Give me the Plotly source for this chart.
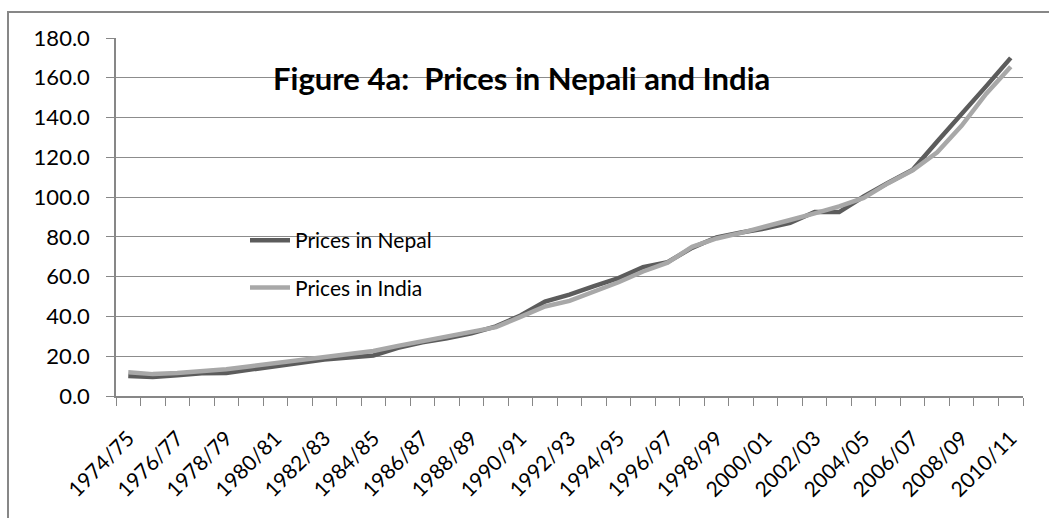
import plotly.graph_objects as go

years = ["1974/75", "1975/76", "1976/77", "1977/78", "1978/79", "1979/80", "1980/81",
         "1981/82", "1982/83", "1983/84", "1984/85", "1985/86", "1986/87", "1987/88",
         "1988/89", "1989/90", "1990/91", "1991/92", "1992/93", "1993/94", "1994/95",
         "1995/96", "1996/97", "1997/98", "1998/99", "1999/00", "2000/01", "2001/02",
         "2002/03", "2003/04", "2004/05", "2005/06", "2006/07", "2007/08", "2008/09",
         "2009/10", "2010/11"]

prices_nepal = [10.0, 9.6, 10.4, 11.4, 11.6, 13.4, 14.8, 16.6, 18.4, 19.4, 20.4, 24.2,
                27.0, 29.0, 31.5, 35.0, 40.5, 47.5, 51.0, 55.3, 59.3, 64.8, 67.3, 74.5,
                79.8, 82.2, 84.3, 87.0, 92.5, 92.5, 100.3, 107.2, 113.8, 128.0, 141.5,
                155.8, 170.0]

prices_india = [11.9, 11.0, 11.6, 12.5, 13.4, 15.0, 16.6, 18.0, 19.6, 21.5, 22.6, 25.2,
                27.5, 29.6, 32.0, 34.6, 39.8, 45.0, 47.8, 52.3, 57.2, 62.6, 67.0, 75.0,
                79.2, 82.0, 85.0, 88.5, 91.8, 95.3, 99.6, 107.0, 113.5, 122.5, 136.0,
                152.0, 165.5]

y_ticks = [0, 20, 40, 60, 80, 100, 120, 140, 160, 180]

title_text = "Figure 4a:  Prices in Nepali and India"
series_names = ["Prices in Nepal", "Prices in India"]

FONT = "Lato, Calibri, Carlito, sans-serif"
W, H = 1049, 518
L, R, T, B = 116, 26, 38, 122
pw = W - L - R
ph = H - T - B

idx = list(range(len(years)))

fig = go.Figure()
fig.add_trace(go.Scatter(x=idx, y=prices_nepal, mode="lines", name=series_names[0],
                         line=dict(color="#5c5c5c", width=4.5), legendgroup="a"))
fig.add_trace(go.Scatter(x=idx, y=prices_india, mode="lines", name=series_names[1],
                         line=dict(color="#a8a8a8", width=4.5), legendgroup="b"))

def px_x(p):
    return (p - L) / pw

def px_y(p):
    return (H - B - p) / ph

fig.update_layout(
    width=W, height=H,
    margin=dict(l=L, r=R, t=T, b=B, pad=0, autoexpand=False),
    paper_bgcolor="white", plot_bgcolor="white",
    font=dict(family=FONT, size=20, color="black"),
    showlegend=True,
    legend=dict(x=px_x(245), y=px_y(220), xanchor="left", yanchor="top",
                bgcolor="rgba(0,0,0,0)", font=dict(size=21, family=FONT),
                traceorder="grouped", tracegroupgap=17, itemwidth=40),
    annotations=[dict(text="<b>" + title_text + "</b>", xref="paper", yref="paper",
                      x=px_x(271), y=px_y(78), xanchor="left", yanchor="middle",
                      showarrow=False, font=dict(size=31, family=FONT, color="black"))],
    shapes=[dict(type="rect", xref="paper", yref="paper",
                 x0=px_x(8), x1=px_x(1060), y0=px_y(530), y1=px_y(12),
                 line=dict(color="#878787", width=2), fillcolor="rgba(0,0,0,0)",
                 layer="below")],
)

fig.update_xaxes(
    range=[-0.5, len(years) - 0.5],
    automargin=False,
    tickmode="array",
    tickvals=idx[::2],
    ticktext=years[::2],
    tickangle=-45,
    ticks="",
    ticklabelstandoff=20,
    showgrid=False,
    showline=True, linecolor="#878787", linewidth=1.5,
    tickfont=dict(size=21, family=FONT, color="black"),
    minor=dict(tick0=-0.5, dtick=1, ticks="outside", ticklen=8, tickcolor="#878787",
               tickwidth=1, showgrid=False),
    zeroline=False,
)
fig.update_yaxes(
    range=[0, 180],
    automargin=False,
    tickmode="array",
    tickvals=y_ticks,
    ticktext=[f"{v:.1f}" for v in y_ticks],
    ticks="outside", ticklen=8, tickcolor="#878787",
    ticklabelstandoff=12,
    showgrid=True, gridcolor="#8c8c8c", gridwidth=1,
    showline=True, linecolor="#878787", linewidth=1.5,
    tickfont=dict(size=22, family=FONT, color="black"),
    zeroline=False,
)

fig.write_html("out.html")
